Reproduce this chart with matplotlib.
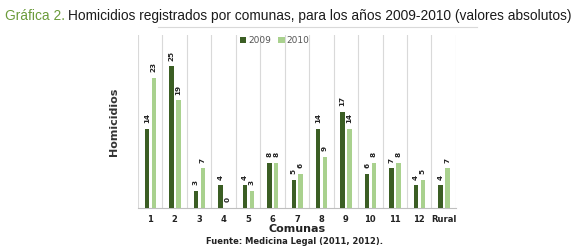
import numpy as np
import matplotlib.pyplot as plt
from matplotlib.lines import Line2D

# data
comunas = ['1', '2', '3', '4', '5', '6', '7', '8', '9', '10', '11', '12', 'Rural']
h2009 = [14, 25, 3, 4, 4, 8, 5, 14, 17, 6, 7, 4, 4]
h2010 = [23, 19, 7, 0, 3, 8, 6, 9, 14, 8, 8, 5, 7]

dark = '#3b5e24'
light = '#a9d18e'
title_font = ['Liberation Sans Narrow', 'Liberation Sans', 'DejaVu Sans']

fig = plt.figure(figsize=(5.8, 2.5), dpi=100)
ax = fig.add_axes([0.238, 0.168, 0.548, 0.692])

x = np.arange(len(comunas))
w = 0.18
b1 = ax.bar(x - 0.13, h2009, w, color=dark, label='2009', zorder=3)
b2 = ax.bar(x + 0.15, h2010, w, color=light, label='2010', zorder=3)

for bars in (b1, b2):
    for r in bars:
        ax.text(r.get_x() + r.get_width() / 2, r.get_height() + 1.0, str(int(r.get_height())),
                rotation=90, ha='center', va='bottom', fontsize=5.2, fontweight='bold', color='#222222')

ax.set_xlim(-0.5, len(comunas) - 0.5)
ax.set_ylim(0, 30.5)
ax.set_xticks(x)
ax.set_xticklabels(comunas, fontsize=6, fontweight='bold', color='#222222')
ax.tick_params(axis='x', length=0, pad=5)
ax.set_yticks([])
# separators between comunas
for b in np.arange(-0.5, len(comunas), 1.0):
    ax.axvline(b, color='#d9d9d9', lw=0.8, zorder=0)
for s in ['top', 'right', 'left']:
    ax.spines[s].set_visible(False)
ax.spines['bottom'].set_color('#bfbfbf')

ax.set_ylabel('Homicidios', fontsize=8, fontweight='bold', color='#333333', labelpad=14)
ax.set_xlabel('Comunas', fontsize=8, fontweight='bold', color='#222222', labelpad=0)

ax.legend(loc='upper center', bbox_to_anchor=(0.43, 1.04), ncol=2, frameon=False, fontsize=6.5,
          handlelength=0.7, handleheight=0.7, handletextpad=0.2, columnspacing=0.8, labelcolor='#555555')

fig.add_artist(Line2D([0.272, 0.822], [0.892, 0.892], color='#d9d9d9', lw=0.8))

# title: two colours, shrink until it fits the width
fs = 10.5
while True:
    t1 = fig.text(0.008, 0.935, 'Gráfica 2.', fontsize=fs, color='#6b9b3a', family=title_font, va='center')
    fig.canvas.draw()
    x2 = t1.get_window_extent().x1 / fig.bbox.width + 0.006
    t2 = fig.text(x2, 0.935, 'Homicidios registrados por comunas, para los años 2009-2010 (valores absolutos)',
                  fontsize=fs, color='#1a1a1a', family=title_font, va='center')
    fig.canvas.draw()
    if t2.get_window_extent().x1 <= 574 or fs < 7:
        break
    t1.remove()
    t2.remove()
    fs -= 0.1

fig.text(0.508, 0.035, 'Fuente: Medicina Legal (2011, 2012).', fontsize=6, fontweight='bold',
         color='#222222', ha='center', va='center')

fig.savefig('out.png', dpi=100)
